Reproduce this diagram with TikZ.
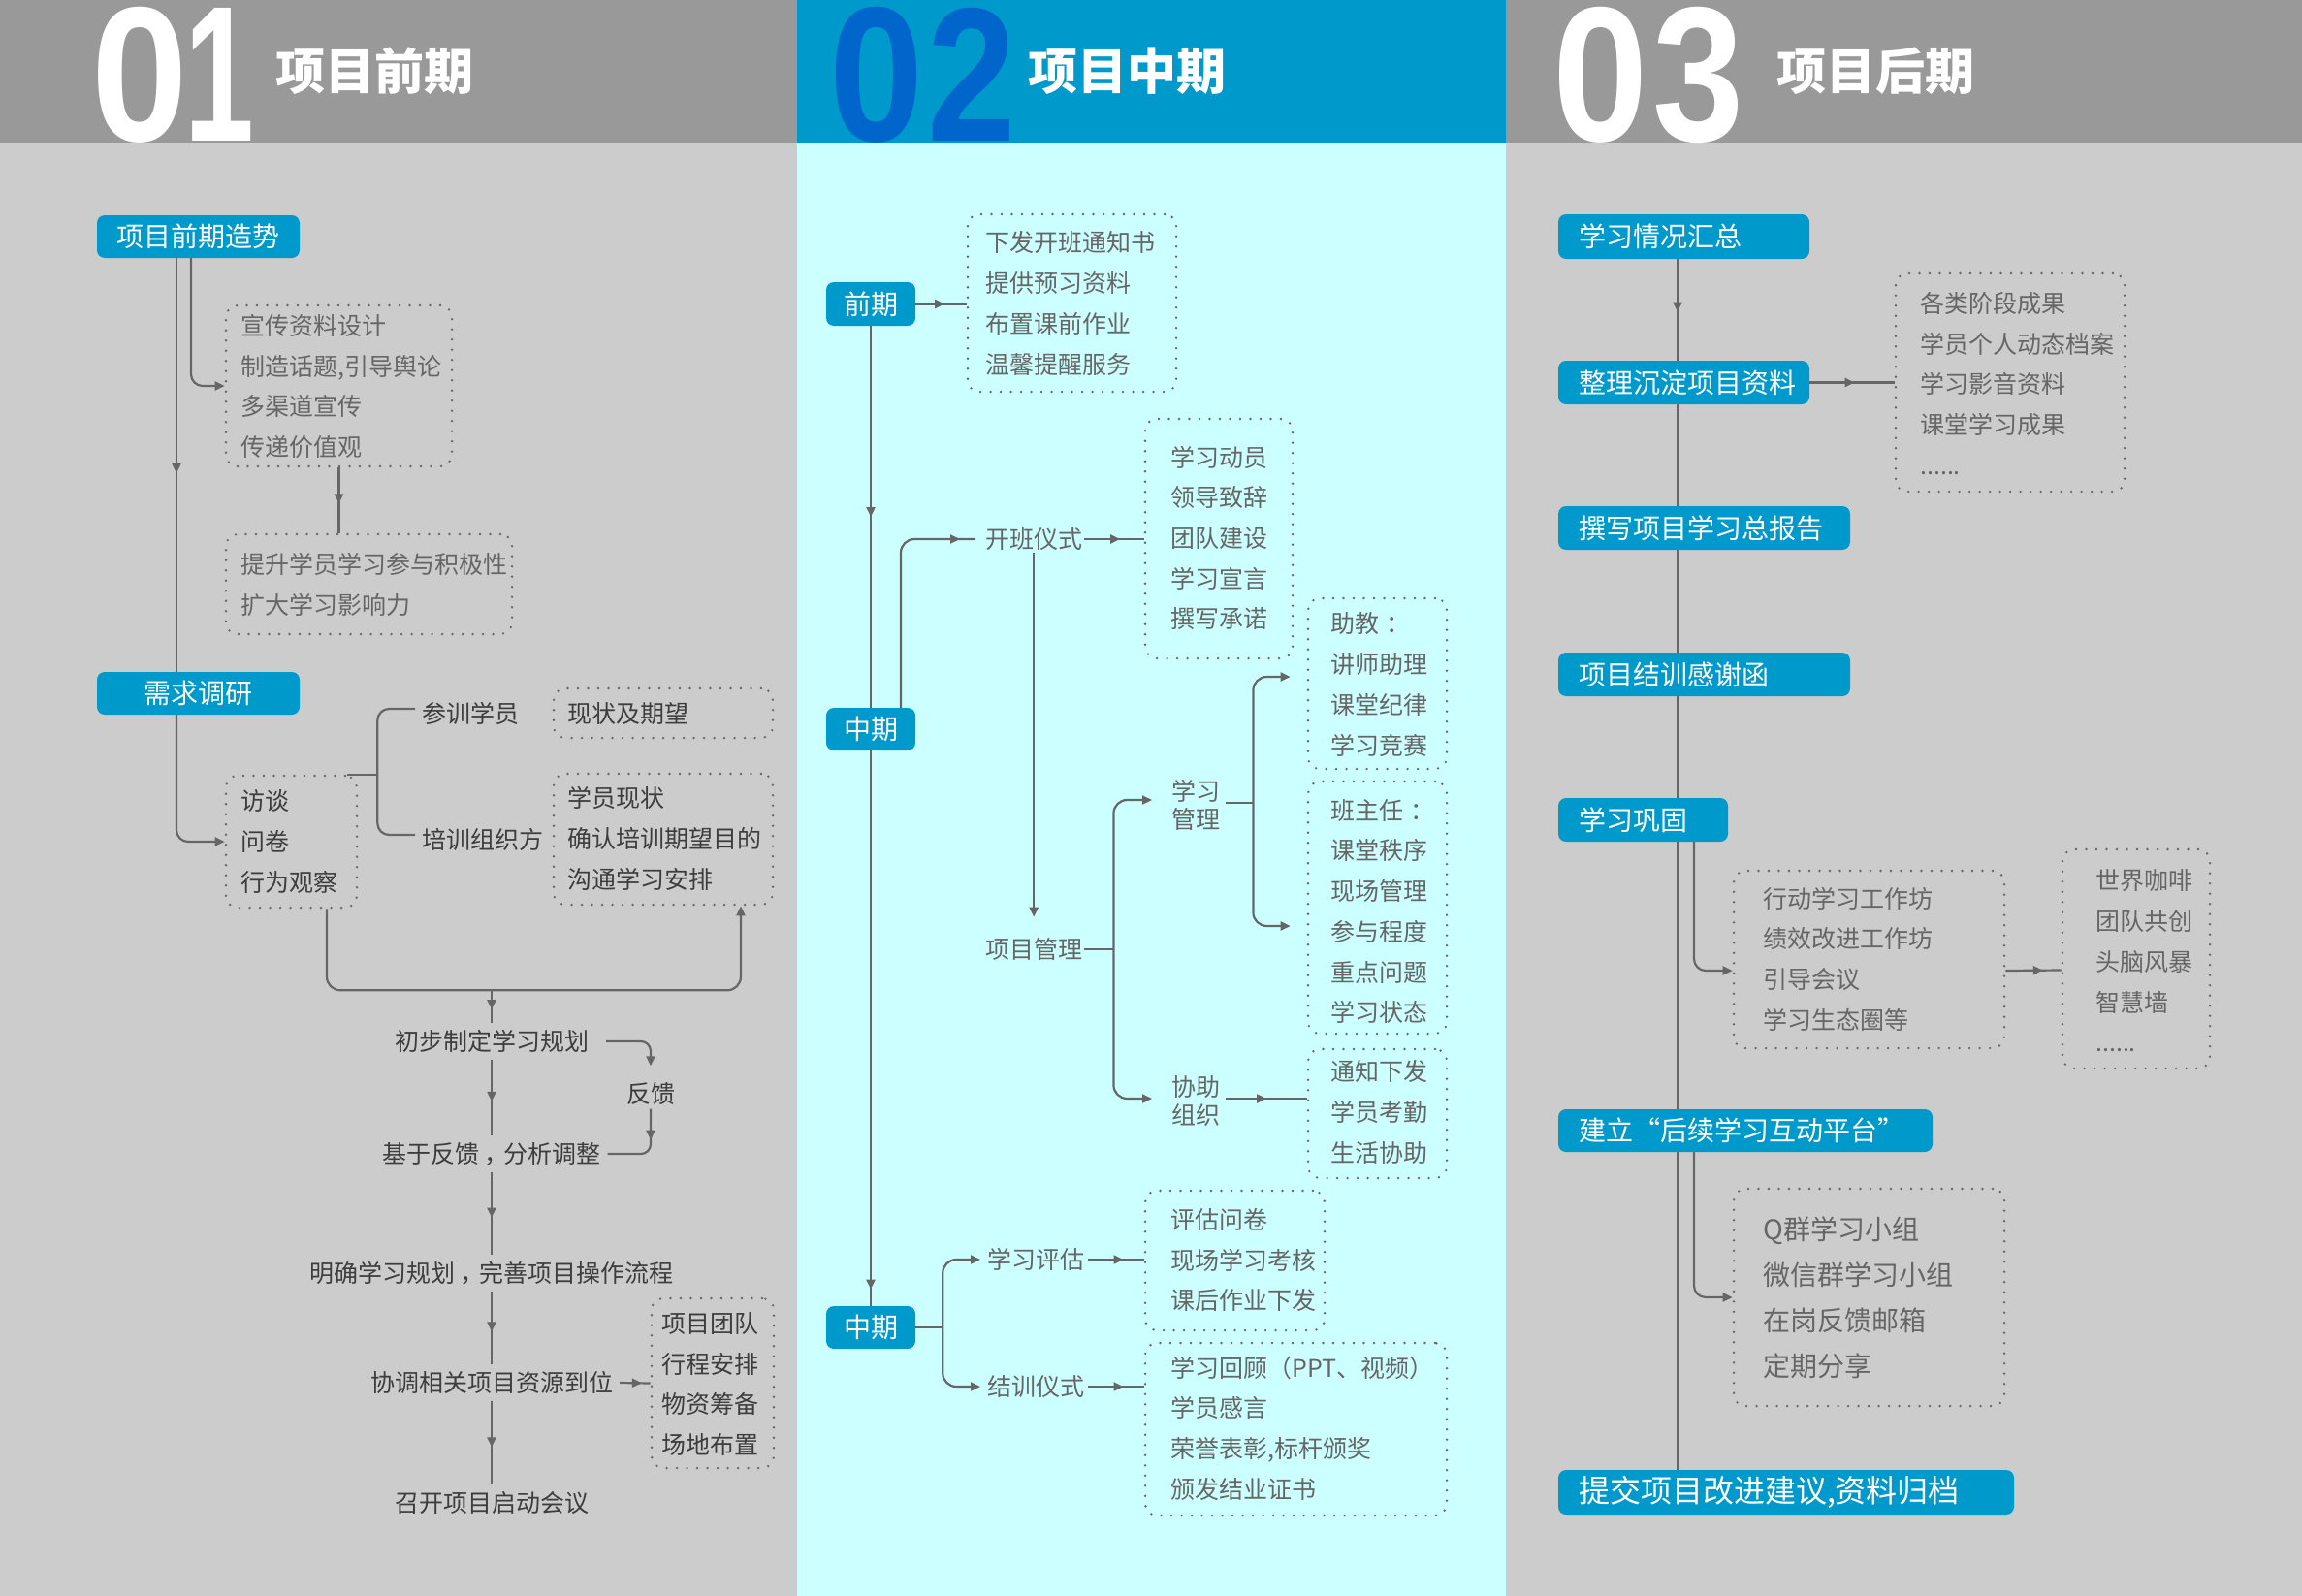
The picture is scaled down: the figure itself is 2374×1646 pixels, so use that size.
\documentclass[tikz,border=0pt]{standalone}
\usepackage{fontspec}
\usepackage{graphicx}
\setmainfont{Noto Sans CJK SC}
\newfontfamily\digitfont{Liberation Sans}
\usetikzlibrary{arrows.meta,decorations.markings,calc}
\definecolor{hdrgray}{HTML}{999999}
\definecolor{bodygray}{HTML}{CCCCCC}
\definecolor{boxblue}{HTML}{0099CC}
\definecolor{midcyan}{HTML}{CCFFFF}
\definecolor{darkblue}{HTML}{0066CC}
\definecolor{lc}{HTML}{666666}
\definecolor{txtgray}{HTML}{666666}
\definecolor{txtdark}{HTML}{3D3D3D}
% a digit whose ink is exactly #2 wide and #3 high
\newcommand\inkdigit[3]{%
  \begingroup
  \setbox0=\hbox{#1}%
  \dimen0=\XeTeXglyphbounds1 \XeTeXcharglyph`#1\relax
  \dimen2=\XeTeXglyphbounds3 \XeTeXcharglyph`#1\relax
  \dimen4=\wd0 \advance\dimen4 by -\dimen0 \advance\dimen4 by -\dimen2
  \edef\dA{\the\dimen0}\edef\dB{\the\dimen2}\edef\dW{\the\wd0}\edef\dI{\the\dimen4}%
  \pgfmathsetmacro\inkscale{#2/\dI}%
  \pgfmathsetmacro\kL{\inkscale*\dA}%
  \pgfmathsetmacro\kR{\inkscale*\dB}%
  \pgfmathsetmacro\bw{\inkscale*\dW}%
  \kern-\kL pt\resizebox{\bw pt}{#3pt}{#1}\kern-\kR pt%
  \endgroup}
\tikzset{
  conn/.style={draw, color=lc, line width=2.2pt},
  endarrow/.style={-{Triangle[length=10pt,width=9pt]}},
  botharrows/.style={{Triangle[length=10pt,width=9pt]}-{Triangle[length=10pt,width=9pt]}},
  midarr/.style={postaction={decorate}, decoration={markings, mark=at position #1 with {\arrow{Triangle[length=10pt,width=9pt]}}}},
  bluebox/.style={fill=boxblue, rounded corners=8pt, text=white, font=\fontsize{28}{32}\selectfont, inner sep=0pt},
  bluebox3/.style={bluebox, inner xsep=21pt, text width=#1, align=left},
  dotbox/.style={draw=lc, line width=2.6pt, dash pattern=on 0pt off 10.5pt, line cap=round, rounded corners=12pt, inner sep=0pt},
  lst/.style={anchor=west, align=left, inner sep=0pt, text=txtgray, font=\fontsize{25}{41.7}\selectfont},
  lstd/.style={lst, text=txtdark},
  lstb/.style={lst, font=\fontsize{28}{47}\selectfont},
  lbl/.style={anchor=west, inner sep=0pt, text=txtgray, font=\fontsize{25}{30}\selectfont},
  lbld/.style={lbl, text=txtdark},
  lbl2/.style={lbl, align=left, font=\fontsize{25}{29}\selectfont},
  chain/.style={inner sep=7pt, text=txtdark, font=\fontsize{25}{30}\selectfont},
  digit/.style={anchor=base west, inner sep=0pt, font=\digitfont\bfseries},
  title/.style={anchor=west, inner sep=0pt, text=white, font=\fontsize{51}{55}\selectfont\bfseries},
}
\begin{document}
\begin{tikzpicture}[x=1pt,y=-1pt]
\useasboundingbox (0,0) rectangle (2374,1646);
% backgrounds
\fill[bodygray] (0,0) rectangle (822,1646);
\fill[midcyan] (822,0) rectangle (1553,1646);
\fill[bodygray] (1553,0) rectangle (2374,1646);
\fill[hdrgray] (0,0) rectangle (822,147);
\fill[boxblue] (822,0) rectangle (1553,147);
\fill[hdrgray] (1553,0) rectangle (2374,147);
\node[digit, text=white] (d1a) at (101.7,145) {\inkdigit{0}{85}{138}};
\node[digit, text=white] (d1b) at (198,145) {\inkdigit{1}{60}{137}};
\node[digit, text=darkblue] (d2a) at (862,145) {\inkdigit{0}{83}{138}};
\node[digit, text=darkblue] (d2b) at (962,145) {\inkdigit{2}{79}{137}};
\node[digit, text=white] (d3a) at (1608,145) {\inkdigit{0}{84}{138}};
\node[digit, text=white] (d3b) at (1708,145) {\inkdigit{3}{84}{138}};
\node[title] (h1) at (284,73) {项目前期};
\node[title] (h2) at (1060,73) {项目中期};
\node[title] (h3) at (1832,73) {项目后期};

% ---------- column 1 ----------
\node[bluebox, minimum width=209pt, minimum height=44pt] (b1) at (204.5,244) {项目前期造势};
\node[dotbox, minimum width=233pt, minimum height=166pt] (db1) at (349.5,398) {};
\node[lst] (l1) at (248,398.5) {宣传资料设计\\制造话题,引导舆论\\多渠道宣传\\传递价值观};
\node[dotbox, minimum width=295pt, minimum height=103pt] (db2) at (380.5,602.5) {};
\node[lst] (l2) at (248,603) {提升学员学习参与积极性\\扩大学习影响力};
\node[bluebox, minimum width=209pt, minimum height=44pt] (b2) at (204.5,715) {需求调研};
\node[dotbox, minimum width=135pt, minimum height=136pt] (db3) at (300.5,868) {};
\node[lstd] (l3) at (248,868) {访谈\\问卷\\行为观察};
\node[lbld] (cx) at (435,736) {参训学员};
\node[lbld] (px) at (435,866) {培训组织方};
\node[dotbox, minimum width=226pt, minimum height=51pt] (db4) at (684,735.5) {};
\node[lstd] (l4) at (585,736) {现状及期望};
\node[dotbox, minimum width=226pt, minimum height=135pt] (db5) at (684,865.5) {};
\node[lstd] (l5) at (585,865) {学员现状\\确认培训期望目的\\沟通学习安排};
\node[chain] (p1) at (507,1074) {初步制定学习规划};
\node[lbld, anchor=center] (fb) at (671,1128) {反馈};
\node[chain] (p2) at (507,1190) {基于反馈\kern0.2em，\kern-0.2em分析调整};
\node[chain] (p3) at (507,1313) {明确学习规划\kern0.2em，\kern-0.2em完善项目操作流程};
\node[chain] (p4) at (507,1426) {协调相关项目资源到位};
\node[dotbox, minimum width=126pt, minimum height=175pt] (db6) at (735,1426.5) {};
\node[lstd] (l6) at (682,1427.5) {项目团队\\行程安排\\物资筹备\\场地布置};
\node[chain] (p5) at (507,1550) {召开项目启动会议};

\draw[conn, midarr=0.52] ([xshift=-22.5pt]b1.south) -- ([xshift=-22.5pt]b2.north);
\draw[conn, endarrow, rounded corners=12pt] ([xshift=-22.5pt]b2.south) |- (db3.west);
\draw[conn, endarrow, rounded corners=12pt] ([xshift=-7.5pt]b1.south) |- (db1.west);
\draw[conn, midarr=0.55] (db1.south) -- (db1.south |- db2.north);
\draw[conn] ([xshift=-11pt]db3.north east) -- ++(31,0) coordinate (j1);
\draw[conn, rounded corners=12pt] ([shift={(-7,-5)}]cx.west) -| (j1) |- ([shift={(-7,-5)}]px.west);
\draw[conn, endarrow, rounded corners=14pt] ([xshift=36.5pt]db3.south) -- ++(0,84) coordinate (m0) -| ([xshift=80pt]db5.south);
\coordinate (merge) at (507,1020);
\draw[conn, midarr=0.6] (merge) -- (p1.north);
\draw[conn, midarr=0.55] (p1) -- (p2);
\draw[conn, midarr=0.55] (p2) -- (p3);
\draw[conn, midarr=0.55] (p3) -- (p4);
\draw[conn, midarr=0.55] (p4) -- (p5);
\draw[conn, endarrow, rounded corners=10pt] ([xshift=11pt]p1.east) -| ([yshift=17pt]fb.north);
\draw[conn, midarr=32pt, rounded corners=10pt] ([yshift=-4pt]fb.south) |- (p2.east);
\draw[conn, midarr=0.72] (p4.east) -- (db6.west);

% ---------- column 2 ----------
\node[bluebox, minimum width=92pt, minimum height=45pt] (q1) at (898,313.5) {前期};
\node[dotbox, minimum width=215pt, minimum height=183pt] (db7) at (1105.5,312.5) {};
\node[lst] (l7) at (1016,313) {下发开班通知书\\提供预习资料\\布置课前作业\\温馨提醒服务};
\node[bluebox, minimum width=92pt, minimum height=44pt] (q2) at (898,752) {中期};
\node[lbl] (kb) at (1016,556) {开班仪式};
\node[dotbox, minimum width=152pt, minimum height=247pt] (db8) at (1257,555.5) {};
\node[lst] (l8) at (1207,555) {学习动员\\领导致辞\\团队建设\\学习宣言\\撰写承诺};
\node[lbl] (pm) at (1016,979) {项目管理};
\node[lbl2] (lm) at (1208,830) {学习\\管理};
\node[lbl2] (xz) at (1208,1135) {协助\\组织};
\node[dotbox, minimum width=143pt, minimum height=176pt] (db9) at (1420.5,705) {};
\node[lst] (l9) at (1372,706) {助教\kern0.3em：\\讲师助理\\课堂纪律\\学习竞赛};
\node[dotbox, minimum width=143pt, minimum height=260pt] (db10) at (1420.5,936) {};
\node[lst] (l10) at (1372,940) {班主任\kern0.3em：\\课堂秩序\\现场管理\\参与程度\\重点问题\\学习状态};
\node[dotbox, minimum width=143pt, minimum height=133pt] (db11) at (1420.5,1148.5) {};
\node[lst] (l11) at (1372,1147) {通知下发\\学员考勤\\生活协助};
\node[bluebox, minimum width=92pt, minimum height=44pt] (q3) at (898,1369) {中期};
\node[lbl] (pg) at (1018,1299) {学习评估};
\node[lbl] (jx) at (1018,1430) {结训仪式};
\node[dotbox, minimum width=185pt, minimum height=144pt] (db12) at (1273.5,1300) {};
\node[lst] (l12) at (1207,1299.5) {评估问卷\\现场学习考核\\课后作业下发};
\node[dotbox, minimum width=311pt, minimum height=178pt] (db13) at (1336.5,1474) {};
\node[lst] (l13) at (1207,1473) {学习回顾（PPT、视频）\\学员感言\\荣誉表彰,标杆颁奖\\颁发结业证书};

\draw[conn, midarr=0.57] (q1.east) -- (q1.east -| db7.west);
\draw[conn, midarr=0.5] (q1.south) -- (q2.north);
\draw[conn, midarr=0.97] (q2.south) -- (q3.north);
\draw[conn, midarr=-16pt, rounded corners=14pt] ([xshift=31pt]q2.north) |- ([xshift=-10pt]kb.west);
\draw[conn, midarr=0.6] ([xshift=2pt]kb.east) -- (kb.east -| db8.west);
\draw[conn, endarrow] ([yshift=-2.5pt]kb.south) -- ([yshift=21.5pt]pm.south |- pm.north);
\draw[conn] ([xshift=2pt]pm.east) -- ++(30,0) coordinate (j2);
\draw[conn, botharrows, rounded corners=14pt] ([shift={(-20,-5)}]lm.west) -| (j2) |- ([shift={(-20,-2)}]xz.west);
\draw[conn] ([shift={(6,-2)}]lm.east) -- ++(28,0) coordinate (j3);
\draw[conn, botharrows, rounded corners=14pt] ([shift={(-17,-7)}]db9.west) -| (j3) |- ([shift={(-17,19)}]db10.west);
\draw[conn, midarr=0.5] ([shift={(6,-2)}]xz.east) -- ([yshift=2pt]xz.east -| db11.west);
\draw[conn] (q3.east) -- ++(28,0) coordinate (j4);
\draw[conn, botharrows, rounded corners=14pt] ([xshift=-7pt]pg.west) -| (j4) |- ([xshift=-7pt]jx.west);
\draw[conn, midarr=0.63] ([xshift=4pt]pg.east) -- (pg.east -| db12.west);
\draw[conn, midarr=0.63] ([xshift=4pt]jx.east) -- (jx.east -| db13.west);

% ---------- column 3 ----------
\node[bluebox3=217pt, minimum height=46pt] (r1) at (1736.5,244) {学习情况汇总};
\node[bluebox3=217pt, minimum height=45pt] (r2) at (1736.5,394.5) {整理沉淀项目资料};
\node[bluebox3=259pt, minimum height=45pt] (r3) at (1757.5,544.5) {撰写项目学习总报告};
\node[bluebox3=259pt, minimum height=45pt] (r4) at (1757.5,695.5) {项目结训感谢函};
\node[bluebox3=133pt, minimum height=45pt] (r5) at (1694.5,845.5) {学习巩固};
\node[bluebox3=344pt, minimum height=44pt] (r6) at (1800,1166) {建立“后续学习互动平台”};
\node[bluebox3=428pt, minimum height=46pt, font=\fontsize{32}{36}\selectfont] (r7) at (1842,1539) {提交项目改进建议,资料归档};
\node[dotbox, minimum width=236pt, minimum height=225pt] (db14) at (2073,394.5) {};
\node[lst] (l14) at (1980,395.5) {各类阶段成果\\学员个人动态档案\\学习影音资料\\课堂学习成果\\......};
\node[dotbox, minimum width=279pt, minimum height=183pt] (db15) at (1927.5,989.5) {};
\node[lst] (l15) at (1818,989) {行动学习工作坊\\绩效改进工作坊\\引导会议\\学习生态圈等};
\node[dotbox, minimum width=152pt, minimum height=226pt] (db16) at (2203,989) {};
\node[lst] (l16) at (2161,991) {世界咖啡\\团队共创\\头脑风暴\\智慧墙\\......};
\node[dotbox, minimum width=279pt, minimum height=224pt] (db17) at (1927.5,1338) {};
\node[lstb] (l17) at (1818,1338.5) {Q群学习小组\\微信群学习小组\\在岗反馈邮箱\\定期分享};

\coordinate (spine) at (1730,0);
\coordinate (spine2) at (1747,0);
\draw[conn, midarr=0.52] (r1.south -| spine) -- (r2.north -| spine);
\draw[conn] (r2.south -| spine) -- (r3.north -| spine);
\draw[conn] (r3.south -| spine) -- (r4.north -| spine);
\draw[conn] (r4.south -| spine) -- (r5.north -| spine);
\draw[conn] (r5.south -| spine) -- (r6.north -| spine);
\draw[conn] (r6.south -| spine) -- (r7.north -| spine);
\draw[conn, midarr=0.53] (r2.east) -- (r2.east -| db14.west);
\draw[conn, endarrow, rounded corners=12pt] (r5.south -| spine2) |- ([yshift=-11.5pt]db15.west);
\draw[conn, midarr=0.67] ([yshift=-11.5pt]db15.east) -- ([yshift=-11.5pt]db16.west);
\draw[conn, endarrow, rounded corners=12pt] (r6.south -| spine2) |- (db17.west);
\end{tikzpicture}
\end{document}
